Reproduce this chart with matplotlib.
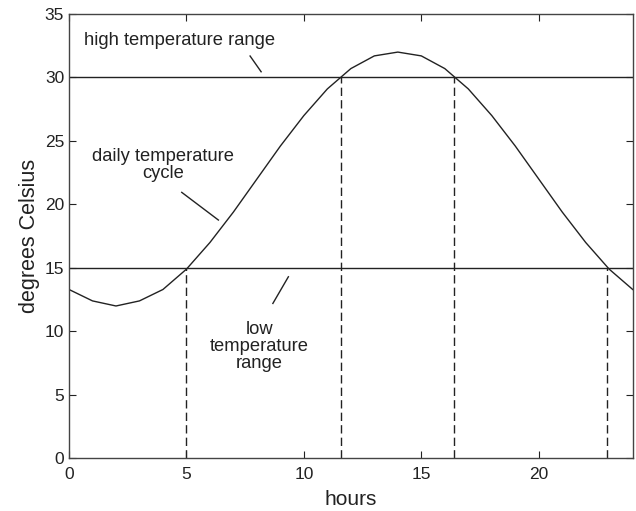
import matplotlib
matplotlib.use("Agg")
import matplotlib.pyplot as plt

hours = list(range(25))
temps = [13.3, 12.4, 12.0, 12.4, 13.3, 14.9, 17.0, 19.4, 22.0, 24.6, 27.0, 29.1,
         30.7, 31.7, 32.0, 31.7, 30.7, 29.1, 27.0, 24.6, 22.0, 19.4, 17.0, 14.9, 13.3]
high_level = 30
low_level = 15
cross_x = [5.0, 11.6, 16.4, 22.9]
cross_y = [15, 30, 30, 15]
x_ticks = [0, 5, 10, 15, 20]
y_ticks = [0, 5, 10, 15, 20, 25, 30, 35]

plt.rcParams['font.family'] = ['Liberation Sans', 'DejaVu Sans']
fig = plt.figure(figsize=(6.36, 5.11), dpi=100)
ax = fig.add_axes([0.1085, 0.1031, 0.8863, 0.8695])

c = '#222222'
ax.plot(hours, temps, color=c, lw=1.0)
ax.axhline(high_level, color=c, lw=1.0)
ax.axhline(low_level, color=c, lw=1.0)
for xv, yv in zip(cross_x, cross_y):
    ax.plot([xv, xv], [0, yv], color=c, lw=1.0, ls=(0, (6, 3)))

ax.set_xlim(0, 24)
ax.set_ylim(0, 35)
ax.set_xticks(x_ticks)
ax.set_yticks(y_ticks)
ax.tick_params(direction='in', top=True, right=True, labelsize=12.5, colors=c,
               length=5, width=0.8)
ax.tick_params(axis='x', pad=6)
for s in ax.spines.values():
    s.set_color('#444444')
    s.set_linewidth(1.0)
ax.set_xlabel('hours', fontsize=15, color=c, labelpad=6)
ax.set_ylabel('degrees Celsius', fontsize=15.5, color=c, labelpad=3)

fs = 13.2
ax.text(4.7, 32.9, 'high temperature range', ha='center', va='center', fontsize=fs, color=c)
ax.plot([7.71, 8.18], [31.69, 30.45], color=c, lw=1.0)
ax.text(4.0, 23.1, 'daily temperature\ncycle', ha='center', va='center', fontsize=fs, color=c, linespacing=1.05)
ax.plot([4.8, 6.36], [20.95, 18.77], color=c, lw=1.0)
ax.text(8.1, 8.84, 'low\ntemperature\nrange', ha='center', va='center', fontsize=fs, color=c, linespacing=1.0)
ax.plot([9.34, 8.68], [14.3, 12.2], color=c, lw=1.0)

fig.savefig('out.png', dpi=100)
